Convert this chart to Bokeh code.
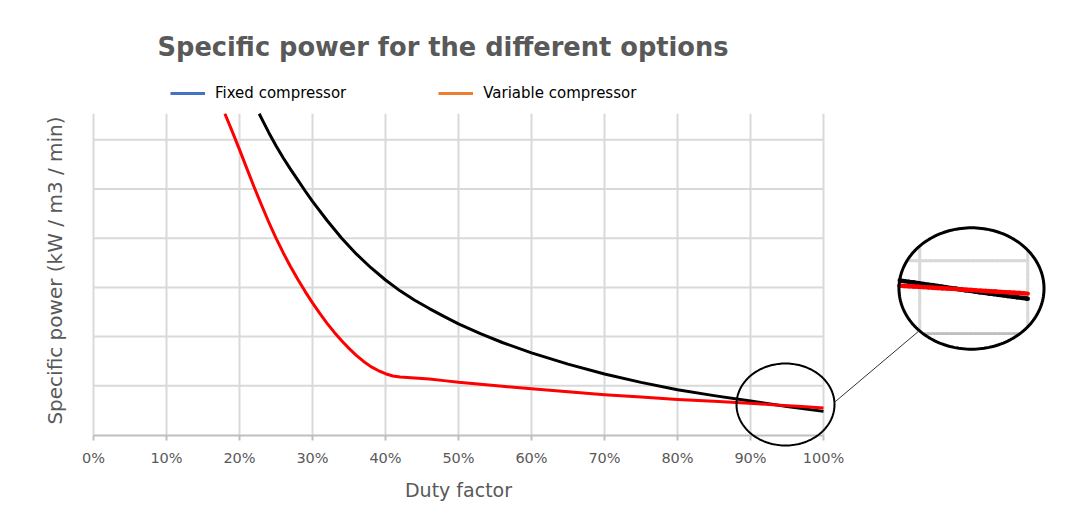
import numpy as np
from bokeh.plotting import figure
from bokeh.models import (Range1d, FixedTicker, PrintfTickFormatter, Legend, LegendItem,
                          PolyAnnotation, Arrow, ColumnDataSource)
from bokeh.core.properties import value
from bokeh.embed import file_html
from bokeh.resources import INLINE

# ---------------- data ----------------
TITLE = "Specific power for the different options"
X_LABEL = "Duty factor"
Y_LABEL = "Specific power (kW / m3 / min)"
LEGEND_LABELS = ["Fixed compressor", "Variable compressor"]
X_TICKS = [0, 10, 20, 30, 40, 50, 60, 70, 80, 90, 100]
Y_GRID = [0, 1, 2, 3, 4, 5, 6]
Y_MAX = 6.53

FIXED_DUTY = [22.7, 23, 24, 25, 26, 27, 28, 29, 30, 32, 34, 36, 38, 40, 42, 44, 46, 48,
              50, 53, 56, 60, 65, 70, 75, 80, 85, 90, 95, 100]
FIXED_POWER = [6.53, 6.44, 6.15, 5.88, 5.63, 5.40, 5.18, 4.96, 4.75, 4.36, 4.00, 3.68,
               3.40, 3.15, 2.93, 2.74, 2.57, 2.41, 2.26, 2.06, 1.88, 1.67, 1.44, 1.24,
               1.07, 0.92, 0.80, 0.69, 0.58, 0.48]

VARIABLE_DUTY = [18, 19, 20, 21, 22, 23, 24, 25, 26, 27, 28, 29, 30, 31, 32, 33, 34, 35,
                 36, 37, 38, 39, 40, 41, 42, 43, 44, 46, 48, 50, 53, 56, 60, 65, 70, 75,
                 80, 85, 88, 91, 94, 97, 100]
VARIABLE_POWER = [6.53, 6.17, 5.80, 5.42, 5.04, 4.68, 4.33, 4.00, 3.70, 3.42, 3.16, 2.915,
                  2.685, 2.47, 2.27, 2.085, 1.915, 1.76, 1.62, 1.495, 1.39, 1.31, 1.245,
                  1.20, 1.18, 1.17, 1.16, 1.14, 1.105, 1.07, 1.03, 0.99, 0.94, 0.88, 0.82,
                  0.77, 0.72, 0.685, 0.66, 0.633, 0.606, 0.578, 0.55]

# ---------------- layout (pixels) ----------------
W, H = 1075, 517
BL, BR, BT, BB = 30, 5, 66, 7
X0_PX, Y0_PX = 93.0, 434.5      # canvas position of (0 %, 0)
PX_X, PX_Y = 7.3, 49.2          # pixels per % and per y unit
FRAME_L, FRAME_R, FRAME_T, FRAME_B = BL, W - BR, BT, H - BB


def dx(px):
    return (px - X0_PX) / PX_X


def dy(py):
    return (Y0_PX - py) / PX_Y


GRID_COLOR = "#d9d9d9"
AXIS_COLOR = "#bfbfbf"
TEXT_GREY = "#595959"
FIXED_COLOR = "black"
VAR_COLOR = "red"
FONT = "DejaVu Sans"

p = figure(width=W, height=H, output_backend="svg", toolbar_location=None,
           x_range=Range1d(dx(FRAME_L), dx(FRAME_R)),
           y_range=Range1d(dy(FRAME_B), dy(FRAME_T)),
           min_border_left=BL, min_border_right=BR, min_border_top=BT,
           min_border_bottom=BB, title=TITLE)
p.outline_line_color = None
p.background_fill_color = "white"
p.border_fill_color = "white"
p.xgrid.visible = False
p.ygrid.visible = False
p.yaxis.visible = False

p.title.text_font = FONT
p.title.text_font_style = "bold"
p.title.text_font_size = "25.7px"
p.title.text_color = TEXT_GREY
p.title.align = "left"
p.title.offset = 127
p.title.standoff = 10

xa = p.xaxis[0]
xa.fixed_location = 0
xa.bounds = (0, 100)
xa.ticker = FixedTicker(ticks=X_TICKS)
xa.formatter = PrintfTickFormatter(format="%d%%")
xa.axis_line_color = AXIS_COLOR
xa.axis_line_width = 2
xa.major_tick_line_color = AXIS_COLOR
xa.major_tick_line_width = 2
xa.major_tick_out = 5
xa.major_tick_in = 0
xa.minor_tick_line_color = None
xa.major_label_text_font = FONT
xa.major_label_text_font_size = "14.5px"
xa.major_label_text_color = TEXT_GREY
xa.major_label_standoff = 10

# gridlines of the plot area (0..100 %, 0..Y_MAX)
p.segment(x0=X_TICKS, y0=[0] * len(X_TICKS), x1=X_TICKS, y1=[Y_MAX] * len(X_TICKS),
          line_color=GRID_COLOR, line_width=2)
p.segment(x0=[0] * (len(Y_GRID) - 1), y0=Y_GRID[1:], x1=[100] * (len(Y_GRID) - 1),
          y1=Y_GRID[1:], line_color=GRID_COLOR, line_width=2)

# axis titles
p.text(x=[50], y=[dy(489)], text=[X_LABEL], text_font=value(FONT),
       text_font_size="19px", text_color=TEXT_GREY, text_align="center",
       text_baseline="middle")
p.text(x=[dx(54)], y=[dy(270)], text=[Y_LABEL], text_font=value(FONT),
       text_font_size="20px", text_color=TEXT_GREY, text_align="center",
       text_baseline="middle", angle=np.pi / 2)

# ---------------- series ----------------
p.line(FIXED_DUTY, FIXED_POWER, line_color=FIXED_COLOR, line_width=3, line_join="round")
p.line(VARIABLE_DUTY, VARIABLE_POWER, line_color=VAR_COLOR, line_width=3, line_join="round")

# legend (colours as in the original legend), placed just above the plot area
leg_fixed = p.line(x=[np.nan], y=[np.nan], line_color="#4472C4", line_width=3)
leg_var = p.line(x=[np.nan], y=[np.nan], line_color="#ED7D31", line_width=3)
legend = Legend(items=[LegendItem(label=LEGEND_LABELS[0], renderers=[leg_fixed]),
                       LegendItem(label=LEGEND_LABELS[1], renderers=[leg_var])],
                orientation="horizontal", location=(170 - FRAME_L, FRAME_B - 103),
                padding=11, margin=0, spacing=92, glyph_width=35, glyph_height=20,
                label_height=20, label_standoff=10, label_text_font=FONT,
                label_text_font_size="15px", label_text_color="#000000",
                border_line_color=None, background_fill_alpha=0)
p.add_layout(legend, "center")

# ---------------- zoom callout ----------------
ZOOM_CX, ZOOM_CY = dx(785), dy(404)     # centre of the small circle
ZOOM_RX_PX, ZOOM_RY_PX = 49, 41         # radii in pixels
INSET_DX_PX, INSET_DY_PX = 186, 116     # inset centre offset (right, up) in pixels
MAG = 1.48

zrx, zry = ZOOM_RX_PX / PX_X, ZOOM_RY_PX / PX_Y
icx, icy = ZOOM_CX + INSET_DX_PX / PX_X, ZOOM_CY + INSET_DY_PX / PX_Y


def ellipse_pts(cx, cy, rx, ry, n=180):
    t = np.linspace(0, 2 * np.pi, n, endpoint=False)
    return list(cx + rx * np.cos(t)), list(cy + ry * np.sin(t))


def magnify(x, y):
    return icx + MAG * (np.asarray(x) - ZOOM_CX), icy + MAG * (np.asarray(y) - ZOOM_CY)


def clipped_segments(xs, ys):
    xs, ys = np.asarray(xs, float), np.asarray(ys, float)
    px, py = [], []
    for i in range(len(xs) - 1):
        seg_px = np.hypot((xs[i + 1] - xs[i]) * PX_X, (ys[i + 1] - ys[i]) * PX_Y)
        n = max(2, int(seg_px / 0.4))
        t = np.linspace(0, 1, n, endpoint=False)
        px.append(xs[i] + (xs[i + 1] - xs[i]) * t)
        py.append(ys[i] + (ys[i + 1] - ys[i]) * t)
    px.append([xs[-1]]); py.append([ys[-1]])
    px, py = np.concatenate(px), np.concatenate(py)
    inside = ((px - ZOOM_CX) / zrx) ** 2 + ((py - ZOOM_CY) / zry) ** 2 <= 1.0
    keep = np.flatnonzero(inside[:-1] & inside[1:])
    # merge consecutive kept pieces into longer segments
    x0, y0, x1, y1 = [], [], [], []
    if len(keep):
        start = prev = keep[0]
        for k in list(keep[1:]) + [None]:
            if k is not None and k == prev + 1:
                prev = k
                continue
            # emit run start..prev+1 as sampled segments every 8 samples
            idx = list(range(start, prev + 2, 8))
            if idx[-1] != prev + 1:
                idx.append(prev + 1)
            for a, b in zip(idx[:-1], idx[1:]):
                x0.append(px[a]); y0.append(py[a]); x1.append(px[b]); y1.append(py[b])
            if k is not None:
                start = prev = k
    X0, Y0 = magnify(x0, y0)
    X1, Y1 = magnify(x1, y1)
    return dict(x0=list(X0), y0=list(Y0), x1=list(X1), y1=list(Y1))


def add_inset_line(xs, ys, color, width):
    src = ColumnDataSource(clipped_segments(xs, ys))
    p.add_layout(Arrow(end=None, source=src, x_start="x0", y_start="y0",
                       x_end="x1", y_end="y1", line_color=color,
                       line_width=width, line_cap="round"))


tick_len = 5 / PX_Y
for xv in X_TICKS:
    add_inset_line([xv, xv], [0, Y_MAX], GRID_COLOR, 2 * MAG)
    add_inset_line([xv, xv], [0, -tick_len], AXIS_COLOR, 2 * MAG)
for yv in Y_GRID[1:]:
    add_inset_line([0, 100], [yv, yv], GRID_COLOR, 2 * MAG)
add_inset_line([0, 100], [0, 0], AXIS_COLOR, 2 * MAG)
add_inset_line(FIXED_DUTY, FIXED_POWER, FIXED_COLOR, 3 * MAG)
add_inset_line(VARIABLE_DUTY, VARIABLE_POWER, VAR_COLOR, 3 * MAG)

sx, sy = ellipse_pts(ZOOM_CX, ZOOM_CY, zrx, zry)
p.add_layout(PolyAnnotation(xs=sx, ys=sy, fill_color=None, line_color="black",
                            line_alpha=1.0, line_width=2))
bx, by = ellipse_pts(icx, icy, MAG * zrx, MAG * zry)
p.add_layout(PolyAnnotation(xs=bx, ys=by, fill_color=None, line_color="black",
                            line_alpha=1.0, line_width=3))

a0, a1 = np.deg2rad(3), np.deg2rad(-136)
conn = ColumnDataSource(dict(
    x0=[ZOOM_CX + zrx * np.cos(a0)], y0=[ZOOM_CY + zry * np.sin(a0)],
    x1=[icx + MAG * zrx * np.cos(a1)], y1=[icy + MAG * zry * np.sin(a1)]))
p.add_layout(Arrow(end=None, source=conn, x_start="x0", y_start="y0", x_end="x1",
                   y_end="y1", line_color="#333333", line_width=1))

open("out.html", "w").write(file_html(p, INLINE))
